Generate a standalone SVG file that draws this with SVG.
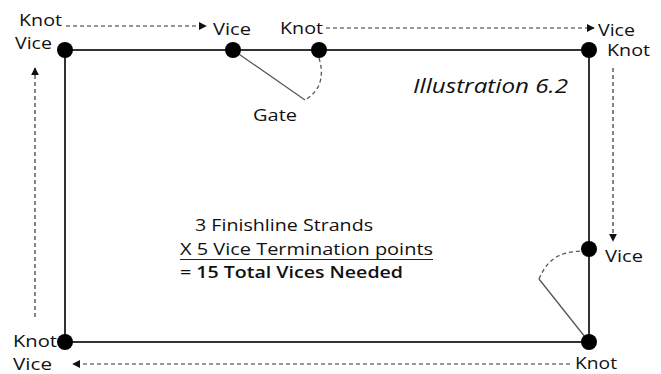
<svg xmlns="http://www.w3.org/2000/svg" width="661" height="374" viewBox="0 0 661 374">
<defs>
<marker id="ah" viewBox="0 0 10 10" refX="9" refY="5" markerWidth="8" markerHeight="8" markerUnits="userSpaceOnUse" orient="auto"><path d="M0,0 L10,5 L0,10 z" fill="#111"/></marker>
<style>
.t{font-family:"Open Sans",Lato,sans-serif;font-size:17px;fill:#111}
.c{font-family:"Open Sans",Lato,sans-serif;font-size:17px;fill:#111}
.frame{stroke:#333;stroke-width:2;fill:none}
.gate{stroke:#555;stroke-width:1.3;fill:none}
.gd{stroke:#555;stroke-width:1.3;fill:none;stroke-dasharray:4,3}
.arr{stroke:#333;stroke-width:1.2;fill:none;stroke-dasharray:4,3;marker-end:url(#ah)}
.dot{fill:#000}
</style>
</defs>
<rect width="661" height="374" fill="#fff"/>
<g id="frame">
<path class="frame" d="M65,50 H589 V342 H65 Z"/>
</g>
<g id="connectors">
<path class="arr" d="M66,26 H206"/>
<path class="arr" d="M326,28 H594"/>
<path class="arr" d="M613,68 V241"/>
<path class="arr" d="M570,364 H73"/>
<path class="arr" d="M35,317 V68"/>
<path class="gate" d="M233,50 L305,100"/>
<path class="gd" d="M319,58 C324,74 322,90 305,100"/>
<path class="gate" d="M589,342 L539,279"/>
<path class="gd" d="M539,279 C548,258 560,252 582,251"/>
</g>
<g id="n-topleft"><circle class="dot" cx="65" cy="50" r="8"/><text class="t" x="19" y="26" textLength="43" lengthAdjust="spacingAndGlyphs">Knot</text><text class="t" x="15" y="49" textLength="37" lengthAdjust="spacingAndGlyphs">Vice</text></g>
<g id="n-topvice"><circle class="dot" cx="233" cy="50" r="8"/><text class="t" x="213" y="35" textLength="38" lengthAdjust="spacingAndGlyphs">Vice</text></g>
<g id="n-topknot"><circle class="dot" cx="319" cy="50" r="8"/><text class="t" x="280" y="34" textLength="43" lengthAdjust="spacingAndGlyphs">Knot</text></g>
<g id="n-gate1"><text class="t" x="253" y="121" textLength="44" lengthAdjust="spacingAndGlyphs">Gate</text></g>
<g id="n-topright"><circle class="dot" cx="589" cy="50" r="8"/><text class="t" x="598" y="36" textLength="37" lengthAdjust="spacingAndGlyphs">Vice</text><text class="t" x="607" y="56" textLength="43" lengthAdjust="spacingAndGlyphs">Knot</text></g>
<g id="n-rightvice"><circle class="dot" cx="589" cy="249" r="8"/><text class="t" x="605" y="262" textLength="38" lengthAdjust="spacingAndGlyphs">Vice</text></g>
<g id="n-bottomright"><circle class="dot" cx="589" cy="342" r="8"/><text class="t" x="575" y="369" textLength="42" lengthAdjust="spacingAndGlyphs">Knot</text></g>
<g id="n-bottomleft"><circle class="dot" cx="65" cy="342" r="8"/><text class="t" x="13" y="347" textLength="44" lengthAdjust="spacingAndGlyphs">Knot</text><text class="t" x="13" y="370" textLength="39" lengthAdjust="spacingAndGlyphs">Vice</text></g>
<g id="title"><text x="413" y="93" style="font-family:'Open Sans',Lato,sans-serif;font-size:20px;font-style:italic;fill:#111" textLength="155" lengthAdjust="spacingAndGlyphs">Illustration 6.2</text></g>
<g id="calc">
<text class="c" x="195" y="231" textLength="178" lengthAdjust="spacingAndGlyphs">3 Finishline Strands</text>
<text class="c" x="180" y="255" textLength="253" lengthAdjust="spacingAndGlyphs">X 5 Vice Termination points</text>
<line x1="180" y1="259.5" x2="433" y2="259.5" stroke="#222" stroke-width="1.2"/>
<text class="c" x="180" y="278" font-weight="600" textLength="223" lengthAdjust="spacingAndGlyphs">= 15 Total Vices Needed</text>
</g>
</svg>
